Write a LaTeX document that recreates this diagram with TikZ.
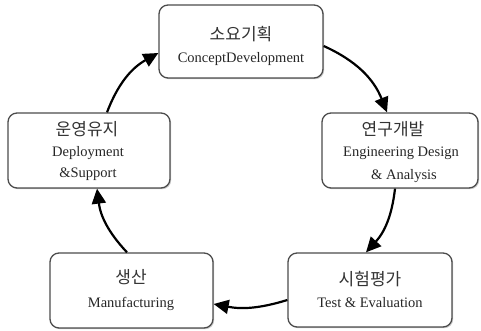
\documentclass[tikz,border=0pt]{standalone}
\usepackage{fontspec}
\setmainfont{Liberation Serif}
\newfontfamily\krfont{Noto Sans CJK KR}
\usetikzlibrary{arrows.meta,shadows}
\begin{document}
\begin{tikzpicture}[x=1pt,y=1pt,
  stage/.style={draw=black!70, line width=1.3pt, rounded corners=9pt, fill=white,
    drop shadow={shadow xshift=1.2pt, shadow yshift=-1.2pt, opacity=0.35, fill=black!60},
    inner sep=0pt},
  kr/.style={anchor=base, font=\krfont\fontsize{17}{19}\selectfont, text=black!80, inner sep=0pt},
  en/.style={anchor=base, font=\fontsize{14.5}{17}\selectfont, text=black!85, inner sep=0pt},
  flow/.style={line width=2.2pt, -{Triangle[length=15pt,width=14pt]}}]
\useasboundingbox (0,0) rectangle (481,331);

% five stages of the cycle
\node[stage, minimum width=164pt, minimum height=73pt] (concept) at (241,289.5) {};
\node[stage, minimum width=156pt, minimum height=75pt] (research) at (400,180.5) {};
\node[stage, minimum width=164pt, minimum height=74pt] (test) at (370,41) {};
\node[stage, minimum width=163pt, minimum height=75pt] (prod) at (131.5,40.5) {};
\node[stage, minimum width=162pt, minimum height=75pt] (ops) at (89,180.5) {};

% labels
\node[kr] (conceptK) at (241,290) {소요기획};
\node[en] (conceptE) at (241,268) {ConceptDevelopment};

\node[kr] (researchK) at (393,195) {연구개발};
\node[en] (researchE1) at (401,174) {Engineering Design};
\node[en] (researchE2) at (404,151) {\& Analysis};

\node[kr] (testK) at (370,45) {시험평가};
\node[en] (testE) at (370,23) {Test \& Evaluation};

\node[kr] (prodK) at (131,47) {생산};
\node[en] (prodE) at (131,23) {Manufacturing};

\node[kr] (opsK) at (87,195) {운영유지};
\node[en] (opsE1) at (88,174) {Deployment};
\node[en] (opsE2) at (88,153) {\&Support};

% clockwise flow between the stages
\draw[flow] ([yshift=-4.5pt]concept.east) to[bend left=22] ([xshift=-13pt]research.north);
\draw[flow] ([xshift=-5pt]research.south) to[bend left=18] ([xshift=-4pt]test.north);
\draw[flow] ([yshift=-10pt]test.west) to[bend left=14] ([yshift=-13.5pt]prod.east);
\draw[flow] ([xshift=-4.5pt]prod.north) to[bend left=18] ([xshift=8pt]ops.south);
\draw[flow] ([xshift=18pt]ops.north) to[bend left=20] ([yshift=-11.5pt]concept.west);
\end{tikzpicture}
\end{document}
